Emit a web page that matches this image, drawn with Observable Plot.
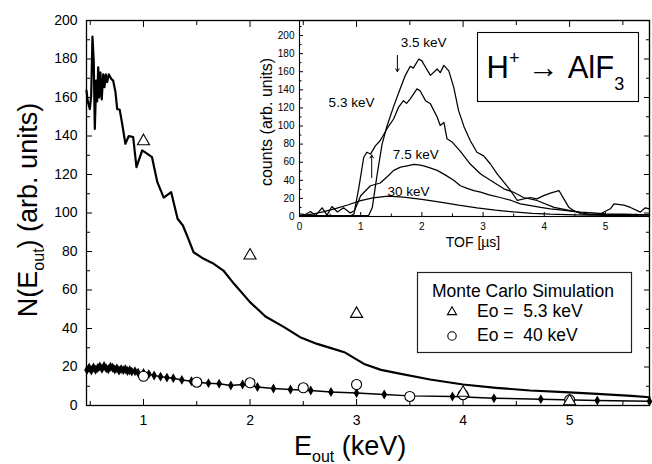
<!DOCTYPE html>
<html><head><meta charset="utf-8">
<script src="https://cdn.jsdelivr.net/npm/d3@7"></script>
<script src="https://cdn.jsdelivr.net/npm/@observablehq/plot@0.6"></script>
<style>
html,body{margin:0;padding:0;background:#fff;}
#wrap{position:relative;width:652px;height:464px;overflow:hidden;background:#fff;}
#wrap svg{position:absolute;left:0;top:0;}
</style></head><body><div id="wrap"></div>
<script>
// ---------- Main panel: N(E_out) ----------
// measured spectrum, Eo = 5.3 keV (thick line)
const e53 = [0.465,0.477,0.496,0.509,0.521,0.533,0.543,0.556,0.565,0.575,0.584,0.596,0.608,0.622,0.634,0.646,0.659,0.674,0.697,0.715,0.737,0.753,0.777,0.80,0.83,0.862,0.903,0.934,0.988,1.03,1.08,1.13,1.19,1.26,1.32,1.37,1.425,1.47,1.565,1.66,1.75,1.85,2.0,2.145,2.32,2.47,2.63,2.76,2.885,3.07,3.23,3.38,3.69,4.0,4.31,4.63,4.95,5.26,5.58,5.75];
const n53 = [163.6,158,154,161,191.7,179,143.7,168.8,158,175.7,160,173,159,172,165.4,172,168,172,169.7,168.8,162.8,154,153.6,146.3,136,140,139.4,123.8,132.5,131,129,116,108,110.8,97,93.5,86,79.6,76.2,73.6,70.1,63.2,53.7,46.2,40.7,35.5,32,29.8,27.7,21.6,18.5,16.8,13.5,10.9,9.2,7.8,6.9,6.0,5.0,4.3];
// measured spectrum, Eo = 40 keV (line with dots)
const e40 = [0.47,0.49,0.51,0.53,0.55,0.57,0.59,0.61,0.63,0.65,0.67,0.69,0.71,0.73,0.75,0.77,0.79,0.81,0.83,0.85,0.87,0.89,0.92,0.95,1.0,1.05,1.1,1.16,1.22,1.28,1.36,1.45,1.53,1.61,1.71,1.82,1.93,2.07,2.22,2.38,2.57,2.76,3.0,3.26,3.5,3.9,4.29,4.73,5.26,5.75];
const n40 = [18.5,19.6,18.2,19.8,18.6,19.5,20.3,19.1,20.5,19.3,18.8,20.1,19.6,18.7,19.3,18.2,18.9,18.4,18.8,17.9,18.3,17.6,17.8,17.0,16.9,16.3,15.6,15.0,14.5,14.2,13.3,12.6,12.0,11.6,11.3,10.4,10.9,9.6,8.8,8.3,7.8,7.0,6.5,5.7,5.0,4.7,3.8,3.3,2.6,2.2];
// Monte Carlo simulation points
const mcTriE = [1,2,3,4,5];
const mcTriN = [137.3,77.9,47.6,6.6,2.2];
const mcCirE = [1,1.5,2,2.5,3,3.5,4,5];
const mcCirN = [15.2,12.1,11.8,9.2,10.9,4.7,5.6,2.9];
// main axis ticks
const xMajor = [1,2,3,4,5];
const xMinor = [0.5,1.5,2.5,3.5,4.5,5.5];
const yMajor = [0,20,40,60,80,100,120,140,160,180,200];
const yMinor = [10,30,50,70,90,110,130,150,170,190];

// ---------- Inset: TOF spectra ----------
const tA = [0,0.3,0.6,0.9,1.13,1.19,1.27,1.35,1.43,1.54,1.65,1.73,1.81,1.86,1.95,2.0,2.06,2.14,2.25,2.3,2.36,2.44,2.52,2.6,2.69,2.79,2.9,3.01,3.12,3.23,3.34,3.45,3.56,3.77,3.88,3.99,4.1,4.24,4.32,4.4,4.48,4.6,4.75,4.92,5.08,5.14,5.3,5.41,5.57,5.65,5.72];
const cA = [1,1,1,1,1,10,47,80,100,122,142,156,166,164,174,172,165,156,163,159,167,161,143,117,99,84,71,67,58,47,38,28.7,17.7,21,19.5,23,25.8,28.7,19.5,10.3,6.6,3,2,3,8.5,14,12.5,10,4.8,9.6,8.5];
const tB = [0,0.3,0.6,0.85,0.89,0.97,1.05,1.1,1.16,1.24,1.32,1.43,1.54,1.62,1.7,1.75,1.81,1.92,1.97,2.06,2.14,2.25,2.3,2.36,2.41,2.5,2.63,2.79,2.96,3.12,3.34,3.5,3.66,3.88,4.16,4.43,4.7,4.97,5.3,5.72];
const cB = [1,1,1,1,3,32,65.5,71,69,78,84,97,108,121,128,125,130,141,139,128,124.5,110,100.6,104,86,82,72,58,47,40,30.6,26.8,21,17.7,10,6.6,3,2,2,2];
const tC = [0,0.09,0.18,0.26,0.37,0.45,0.53,0.62,0.72,0.83,0.9,1.0,1.16,1.32,1.45,1.54,1.65,1.76,1.87,1.95,2.03,2.12,2.25,2.38,2.52,2.63,2.74,2.85,2.96,3.1,3.28,3.45,3.61,3.78,3.94,4.1,4.26,4.43,4.59,4.8,5.0,5.3,5.55,5.72];
const cC = [3,2,5.5,1,9.6,1.5,11,5,9.6,3.8,6.6,23,34,37,45,51,54.5,56,57.5,57,56,54,51,46,40,34,31,28.7,27,24,21,18,14,12,10,8.5,7.4,6,4.8,4,3,2.5,2,2];
const tD = [0,0.2,0.4,0.6,0.8,1.0,1.2,1.45,1.7,2.0,2.3,2.6,2.9,3.2,3.5,3.8,4.1,4.5,5.0,5.72];
const cD = [0.5,2.5,5.5,9,13,17.5,20.5,22.5,21.5,19,16,12.5,9.5,7,5,3.5,2.5,1.8,1.2,0.8];
const labelText = ["3.5 keV","5.3 keV","7.5 keV","30 keV"];
const labelT = [2.03,0.85,1.9,1.78];
const labelC = [192,126,68.5,27.6];
const arrowT = [1.6,1.18];
const arrowFrom = [178,43];
const arrowTo = [160,68];
const tofMajor = [0,1,2,3,4,5];
const tofMinor = [0.5,1.5,2.5,3.5,4.5,5.5];
const cntMajor = [0,20,40,60,80,100,120,140,160,180,200];
const cntMinor = [10,30,50,70,90,110,130,150,170,190,210];

const rows = (xs, ys) => xs.map((x, i) => ({x, y: ys[i]}));
const FONT = "'Liberation Sans', Arial, Helvetica, sans-serif";
const blank = () => "";
const intFmt = d3.format("d");

const main = Plot.plot({
  width: 652, height: 464,
  marginLeft: 86, marginRight: 3, marginTop: 20, marginBottom: 59,
  style: {fontFamily: FONT, fontSize: "14px", background: "transparent", color: "#000"},
  x: {domain: [0.465, 5.75]},
  y: {domain: [0, 200]},
  marks: [
    Plot.frame({stroke: "#000", strokeWidth: 1.3}),
    Plot.axisX({anchor: "bottom", ticks: xMajor, tickSize: -6, tickPadding: 16, tickFormat: intFmt, label: null}),
    Plot.axisX({anchor: "bottom", ticks: xMinor, tickSize: -4, tickFormat: blank, label: null}),
    Plot.axisX({anchor: "top", ticks: xMajor, tickSize: -6, tickFormat: blank, label: null}),
    Plot.axisX({anchor: "top", ticks: xMinor, tickSize: -4, tickFormat: blank, label: null}),
    Plot.axisY({anchor: "left", ticks: yMajor, tickSize: -6, tickPadding: 15, tickFormat: intFmt, label: null}),
    Plot.axisY({anchor: "left", ticks: yMinor, tickSize: -4, tickFormat: blank, label: null}),
    Plot.axisY({anchor: "right", ticks: yMajor, tickSize: -6, tickFormat: blank, label: null}),
    Plot.axisY({anchor: "right", ticks: yMinor, tickSize: -4, tickFormat: blank, label: null}),
    Plot.line(rows(e53, n53), {x: "x", y: "y", stroke: "#000", strokeWidth: 2.2}),
    Plot.line(rows(e40, n40), {x: "x", y: "y", stroke: "#000", strokeWidth: 1.5}),
    Plot.dot(rows(e40, n40), {x: "x", y: "y", r: 3, symbol: "diamond", fill: "#000"}),
    Plot.dot(rows(mcCirE, mcCirN), {x: "x", y: "y", r: 5, symbol: "circle", fill: "#fff", stroke: "#000", strokeWidth: 1.1}),
    Plot.dot(rows(mcTriE, mcTriN), {x: "x", y: "y", r: 4.5, symbol: "triangle", fill: "#fff", stroke: "#000", strokeWidth: 1.1})
  ]
});

const inset = Plot.plot({
  width: 652, height: 464,
  marginLeft: 299, marginRight: 3, marginTop: 20, marginBottom: 248,
  style: {fontFamily: FONT, fontSize: "10px", background: "transparent", color: "#000"},
  x: {domain: [0, 5.72]},
  y: {domain: [0, 216.6]},
  marks: [
    Plot.frame({stroke: "#000", strokeWidth: 1.1}),
    Plot.axisX({anchor: "bottom", ticks: tofMajor, tickSize: -4, tickPadding: 10, tickFormat: intFmt, label: null}),
    Plot.axisX({anchor: "bottom", ticks: tofMinor, tickSize: -2.5, tickFormat: blank, label: null}),
    Plot.axisY({anchor: "left", ticks: cntMajor, tickSize: -4, tickPadding: 9, tickFormat: intFmt, label: null}),
    Plot.axisY({anchor: "left", ticks: cntMinor, tickSize: -2.5, tickFormat: blank, label: null}),
    Plot.line(rows(tD, cD), {x: "x", y: "y", stroke: "#000", strokeWidth: 1.25}),
    Plot.line(rows(tC, cC), {x: "x", y: "y", stroke: "#000", strokeWidth: 1.25}),
    Plot.line(rows(tB, cB), {x: "x", y: "y", stroke: "#000", strokeWidth: 1.25}),
    Plot.line(rows(tA, cA), {x: "x", y: "y", stroke: "#000", strokeWidth: 1.25}),
    Plot.text(labelText.map((s, i) => ({s, x: labelT[i], y: labelC[i]})), {x: "x", y: "y", text: "s", fontSize: 13.5, fill: "#000"}),
    Plot.arrow(arrowT.map((t, i) => ({t, a: arrowFrom[i], b: arrowTo[i]})), {x1: "t", y1: "a", x2: "t", y2: "b", stroke: "#000", strokeWidth: 1, headLength: 5})
  ]
});

const wrap = document.getElementById("wrap");
wrap.appendChild(main);
wrap.appendChild(inset);

// ---------- titles, legend and reaction label ----------
const M = d3.select(main);
const yt = M.append("text").attr("transform", "translate(37,210) rotate(-90)")
  .attr("text-anchor", "middle").attr("font-family", FONT).attr("font-size", 27).attr("fill", "#000");
yt.append("tspan").text("N(E");
yt.append("tspan").attr("font-size", 16).attr("dy", 7).text("out");
yt.append("tspan").attr("dy", -7).text(")\u00a0(arb. units)");

const xt = M.append("text").attr("x", 294).attr("y", 455).attr("text-anchor", "start")
  .attr("font-family", FONT).attr("font-size", 27).attr("fill", "#000");
xt.append("tspan").text("E");
xt.append("tspan").attr("font-size", 16).attr("dy", 7).text("out");
xt.append("tspan").attr("dy", -7).text("\u00a0(keV)");

const lg = M.append("g").attr("font-family", FONT).attr("font-size", 17.5).attr("fill", "#000").attr("text-anchor", "start");
lg.append("rect").attr("x", 417.5).attr("y", 272.5).attr("width", 214).attr("height", 80)
  .attr("fill", "#fff").attr("stroke", "#222").attr("stroke-width", 1.2);
lg.append("text").attr("x", 432).attr("y", 297).text("Monte Carlo Simulation");
lg.append("path").attr("d", d3.symbol(d3.symbolTriangle, 36)()).attr("transform", "translate(452,312)")
  .attr("fill", "none").attr("stroke", "#000").attr("stroke-width", 1.1);
lg.append("text").attr("x", 477).attr("y", 317).text("Eo =\u00a0 5.3 keV");
lg.append("circle").attr("cx", 452).attr("cy", 336).attr("r", 4.2)
  .attr("fill", "none").attr("stroke", "#000").attr("stroke-width", 1.1);
lg.append("text").attr("x", 477).attr("y", 341).text("Eo =\u00a0 40 keV");

const I = d3.select(inset);
I.append("text").attr("x", 473).attr("y", 247).attr("text-anchor", "middle")
  .attr("font-family", FONT).attr("font-size", 14).attr("fill", "#000").text("TOF [\u00b5s]");
I.append("text").attr("transform", "translate(272,122) rotate(-90)").attr("text-anchor", "middle")
  .attr("font-family", FONT).attr("font-size", 16).attr("fill", "#000").text("counts (arb. units)");
I.append("rect").attr("x", 477.5).attr("y", 32.5).attr("width", 161).attr("height", 69)
  .attr("fill", "#fff").attr("stroke", "#000").attr("stroke-width", 1.1);
const rx = I.append("text").attr("x", 486.5).attr("y", 78.3).attr("text-anchor", "start")
  .attr("font-family", FONT).attr("font-size", 31).attr("fill", "#000");
rx.append("tspan").text("H");
rx.append("tspan").attr("font-size", 18).attr("dy", -14).text("+");
rx.append("tspan").attr("dy", 14).text("\u00a0\u2192\u00a0AlF");
rx.append("tspan").attr("font-size", 18).attr("dy", 12).text("3");
</script></body></html>
